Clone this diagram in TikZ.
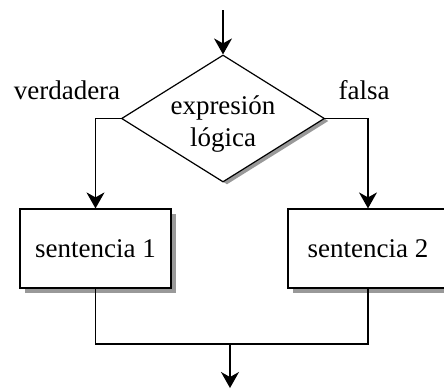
\documentclass[tikz,border=0pt]{standalone}
\usepackage{fontspec}
\setmainfont{Liberation Serif}
\usepackage{tikz}
\usetikzlibrary{arrows.meta,shapes.geometric,shadows}

\definecolor{shadowgray}{gray}{0.6}

\begin{document}
\begin{tikzpicture}[x=0.5pt, y=-0.5pt, line width=0.8pt,
    >={Stealth[length=8pt,width=9pt,inset=2.5pt]},
    font=\fontsize{13.5}{16}\selectfont,
    decision/.style={diamond, draw, fill=white, line width=0.6pt, inner sep=0pt,
        minimum width=101.5pt, minimum height=63.5pt,
        drop shadow={shadow xshift=2pt, shadow yshift=-1.25pt, fill=shadowgray, opacity=1}},
    block/.style={rectangle, draw, fill=white, line width=0.6pt, minimum height=39.5pt,
        drop shadow={shadow xshift=2.5pt, shadow yshift=-2.5pt, fill=shadowgray, opacity=1}}]
    \useasboundingbox (0,0) rectangle (444,388);
    \clip (0,0) rectangle (444,388);

    % Nodes {cond, sent1, sent2, etc}
    \node [decision, label={[yshift=-3pt, align=center]center:expresión\\lógica}]
                                (cond)  at (223,118.5) {};
    \node [block, minimum width=75.5pt]  (sent1) at (95.5,248.5) {sentencia 1};
    \node [block, minimum width=80pt]    (sent2) at (368,248.5)  {sentencia 2};
    \node                       (verd)  at (67,90)     {verdadera};
    \node                       (fals)  at (364,90)    {falsa};
    \coordinate                 (start)  at (223,10);
    \coordinate                 (join)   at (230,344);
    \coordinate                 (finish) at (230,388);

    % Paths
    \draw [->]  (start)      --  (cond.north);
    \draw [->]  (cond.west)  -|  (sent1.north);
    \draw [->]  (cond.east)  -|  (sent2.north);
    \draw       (sent1.south) |- (join) -| (sent2.south);
    \draw [->]  (join)       --  (finish);

\end{tikzpicture}
\end{document}
